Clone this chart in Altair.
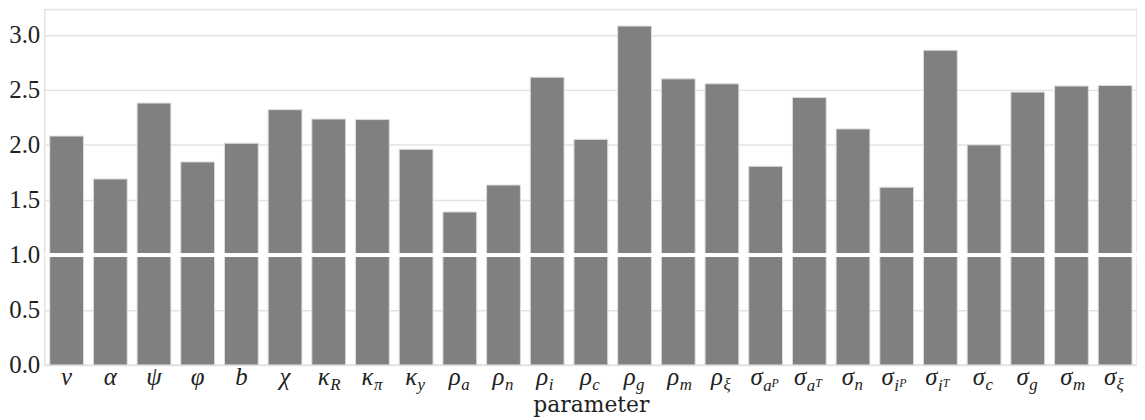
import altair as alt
import pandas as pd

# Parameter labels: main symbol, subscript, superscript
mains = ["ν", "α", "ψ", "φ", "b", "χ", "κ", "κ", "κ", "ρ", "ρ", "ρ", "ρ", "ρ", "ρ", "ρ",
         "σ", "σ", "σ", "σ", "σ", "σ", "σ", "σ", "σ"]
subs = ["", "", "", "", "", "", "R", "π", "y", "a", "n", "i", "c", "g", "m", "ξ",
        "a", "a", "n", "i", "i", "c", "g", "m", "ξ"]
sups = ["", "", "", "", "", "", "", "", "", "", "", "", "", "", "", "",
        "P", "T", "", "P", "T", "", "", "", ""]
values = [2.08, 1.69, 2.38, 1.845, 2.015, 2.32, 2.235, 2.23, 1.96, 1.39, 1.635, 2.615,
          2.05, 3.08, 2.60, 2.555, 1.805, 2.43, 2.145, 1.615, 2.86, 2.0, 2.48, 2.535, 2.54]
y_ticks = [0.0, 0.5, 1.0, 1.5, 2.0, 2.5, 3.0]
ref_line = [1.0]

keys = []
for m, s, p in zip(mains, subs, sups):
    k = m + ("_" + s if s else "") + ("^" + p if p else "")
    keys.append(k)

df = pd.DataFrame({"parameter": keys, "main": mains, "sub": subs, "sup": sups, "value": values})
df["kind"] = ["none" if not s else ("subsup" if p else "sub") for s, p in zip(subs, sups)]

FONT = "'Liberation Serif', 'Times New Roman', serif"
TXT = "#222222"
x_enc = alt.X("parameter:N", sort=keys,
              scale=alt.Scale(paddingInner=0.227, paddingOuter=0.114),
              axis=alt.Axis(labels=False, ticks=False, domain=False, grid=False,
                            title="parameter", titleFont="'DejaVu Serif', serif", titleFontSize=22,
                            titleFontWeight="normal", titleColor=TXT,
                            titleBaseline="alphabetic", titlePadding=47))
xs = alt.X("parameter:N", sort=keys)

base = alt.Chart(df)

bars = base.mark_bar(color="#808080", stroke="#dcdcdc", strokeWidth=1).encode(
    x=x_enc,
    y=alt.Y("value:Q", scale=alt.Scale(domain=[0, 3.231], nice=False, zero=True),
            axis=alt.Axis(values=y_ticks, format=".1f", title=None, ticks=False, domain=False,
                          labelFont=FONT, labelFontSize=25, labelColor=TXT,
                          labelPadding=5, gridColor="#e3e3e3", gridWidth=1.5)),
)

rule = alt.Chart(pd.DataFrame({"y": ref_line})).mark_rule(color="white", strokeWidth=4).encode(
    y="y:Q"
)


def txt(filt, field, size, align, dx, ypix):
    return base.transform_filter(filt).mark_text(
        font=FONT, fontSize=size, fontStyle="italic", align=align, baseline="alphabetic",
        color=TXT, dx=dx
    ).encode(x=xs, y=alt.value(ypix), text=f"{field}:N")


lab_none = txt(alt.datum.kind == "none", "main", 25, "center", 0, 378)
lab_main_sub = txt(alt.datum.kind == "sub", "main", 25, "right", 1, 378)
lab_sub = txt(alt.datum.kind == "sub", "sub", 17, "left", 1.5, 383)
lab_main_ss = txt(alt.datum.kind == "subsup", "main", 25, "right", -3, 378)
lab_sub_ss = txt(alt.datum.kind == "subsup", "sub", 17, "left", -2.5, 384)
lab_sup_a = txt((alt.datum.kind == "subsup") & (alt.datum.sub == "a"), "sup", 12, "left", 6, 380)
lab_sup_i = txt((alt.datum.kind == "subsup") & (alt.datum.sub == "i"), "sup", 12, "left", 2.5, 380)

chart = alt.layer(
    bars, rule, lab_none, lab_main_sub, lab_sub, lab_main_ss, lab_sub_ss, lab_sup_a, lab_sup_i
).properties(
    width=1100, height=358,
    autosize=alt.AutoSizeParams(type="none"),
    padding={"left": 37, "top": 0, "right": 0, "bottom": 54},
    background="white",
).configure_view(stroke="#e3e3e3", strokeWidth=1.5)

chart.save("out.html", embed_options={"renderer": "svg", "actions": False})
